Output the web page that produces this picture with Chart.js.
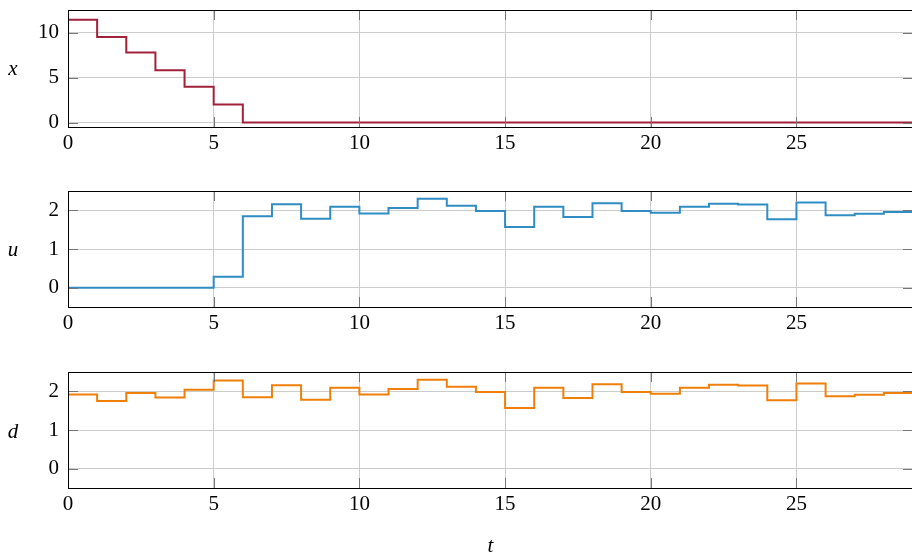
<!DOCTYPE html>
<html>
<head>
<meta charset="utf-8">
<script src="https://cdn.jsdelivr.net/npm/chart.js@4"></script>
<style>
  html, body { margin:0; padding:0; width:912px; height:554px; overflow:hidden; background:#fff; }
  canvas { position:absolute; left:0; }
  .ylab { position:absolute; font-family:"Liberation Serif", serif; font-style:italic; font-size:21px; color:#000; transform:translate(-50%,-50%); }
</style>
</head>
<body>
<canvas id="c1" width="916" height="165" style="top:0px"></canvas>
<canvas id="c2" width="916" height="165" style="top:181px"></canvas>
<canvas id="c3" width="916" height="200" style="top:362px"></canvas>
<div class="ylab" style="left:13px;top:68px">x</div>
<div class="ylab" style="left:13px;top:249px">u</div>
<div class="ylab" style="left:13px;top:431px">d</div>
<script>
// ---- data ----
const tValues = [0,1,2,3,4,5,6,7,8,9,10,11,12,13,14,15,16,17,18,19,20,21,22,23,24,25,26,27,28,29];
const xValues = [11.42, 9.50, 7.77, 5.80, 3.98, 2.00, 0,0,0,0,0,0,0,0,0,0,0,0,0,0,0,0,0,0,0,0,0,0,0];
const uValues = [0,0,0,0,0, 0.28, 1.85, 2.16, 1.78, 2.09, 1.92, 2.06, 2.30, 2.12, 1.98, 1.57, 2.09, 1.83, 2.18, 1.98, 1.94, 2.09, 2.17, 2.15, 1.77, 2.20, 1.87, 1.91, 1.96];
const dValues = [1.92, 1.75, 1.96, 1.84, 2.04, 2.28, 1.85, 2.16, 1.78, 2.09, 1.92, 2.06, 2.30, 2.12, 1.98, 1.57, 2.09, 1.83, 2.18, 1.98, 1.94, 2.09, 2.17, 2.15, 1.77, 2.20, 1.87, 1.91, 1.96];
const xTicks = [0, 5, 10, 15, 20, 25];
const yTicksX = [0, 5, 10];
const yTicksUD = [0, 1, 2];

const FONT = { family: "'Liberation Serif', serif", size: 21 };

function stepPoints(vals) {
  const pts = vals.map((v, i) => ({ x: tValues[i], y: v }));
  pts.push({ x: tValues[vals.length], y: vals[vals.length - 1] });
  return pts;
}

const frameTicks = {
  id: 'frameTicks',
  afterDatasetsDraw(chart) {
    const { ctx, chartArea: a, scales } = chart;
    ctx.save();
    ctx.strokeStyle = '#777';
    ctx.lineWidth = 1;
    const L = 10;
    ctx.beginPath();
    scales.x.ticks.forEach(t => {
      const px = Math.round(scales.x.getPixelForValue(t.value)) + 0.5;
      ctx.moveTo(px, a.top); ctx.lineTo(px, a.top + L);
      ctx.moveTo(px, a.bottom); ctx.lineTo(px, a.bottom - L);
    });
    scales.y.ticks.forEach(t => {
      const py = Math.round(scales.y.getPixelForValue(t.value)) + 0.5;
      ctx.moveTo(a.left, py); ctx.lineTo(a.left + L, py);
      ctx.moveTo(a.right, py); ctx.lineTo(a.right - L, py);
    });
    ctx.stroke();
    ctx.strokeStyle = '#000';
    ctx.strokeRect(Math.round(a.left) + 0.5, Math.round(a.top) + 0.5, Math.round(a.right - a.left), Math.round(a.bottom - a.top));
    ctx.restore();
  }
};

function zeroPad(s) { s.paddingTop = 0; s.paddingBottom = 0; s.paddingLeft = 0; s.paddingRight = 0; }

function makeChart(id, vals, color, yMin, yMax, yTicks, axisH, withTitle) {
  new Chart(document.getElementById(id), {
    type: 'line',
    data: { datasets: [{ data: stepPoints(vals), borderColor: color, borderWidth: 2, stepped: 'before', pointRadius: 0, fill: false }] },
    options: {
      responsive: false, animation: false,
      layout: { padding: { top: 10, right: 3, left: 0, bottom: 0 } },
      plugins: { legend: { display: false }, tooltip: { enabled: false } },
      scales: {
        x: {
          type: 'linear', min: 0, max: 29,
          afterBuildTicks: s => { s.ticks = xTicks.map(v => ({ value: v })); },
          afterFit: s => { s.height = axisH; zeroPad(s); },
          ticks: { font: FONT, color: '#000', padding: 4, maxRotation: 0, autoSkip: false },
          grid: { color: '#cccccc', drawTicks: false },
          border: { color: '#000', width: 1 },
          title: withTitle ? { display: true, text: 't', font: { family: FONT.family, size: 21, style: 'italic' }, color: '#000', padding: { top: 0, bottom: 3 } } : { display: false }
        },
        y: {
          type: 'linear', min: yMin, max: yMax,
          afterBuildTicks: s => { s.ticks = yTicks.map(v => ({ value: v })); },
          afterFit: s => { s.width = 68; zeroPad(s); },
          ticks: { font: FONT, color: '#000', padding: 9 },
          grid: { color: '#cccccc', drawTicks: false },
          border: { color: '#000', width: 1 }
        }
      }
    },
    plugins: [frameTicks]
  });
}

makeChart('c1', xValues, '#A2203A', -0.5, 12.5, yTicksX, 38, false);
makeChart('c2', uValues, '#2F8DC4', -0.5, 2.5, yTicksUD, 39, false);
makeChart('c3', dValues, '#F07F0A', -0.5, 2.5, yTicksUD, 74, true);
</script>
</body>
</html>
